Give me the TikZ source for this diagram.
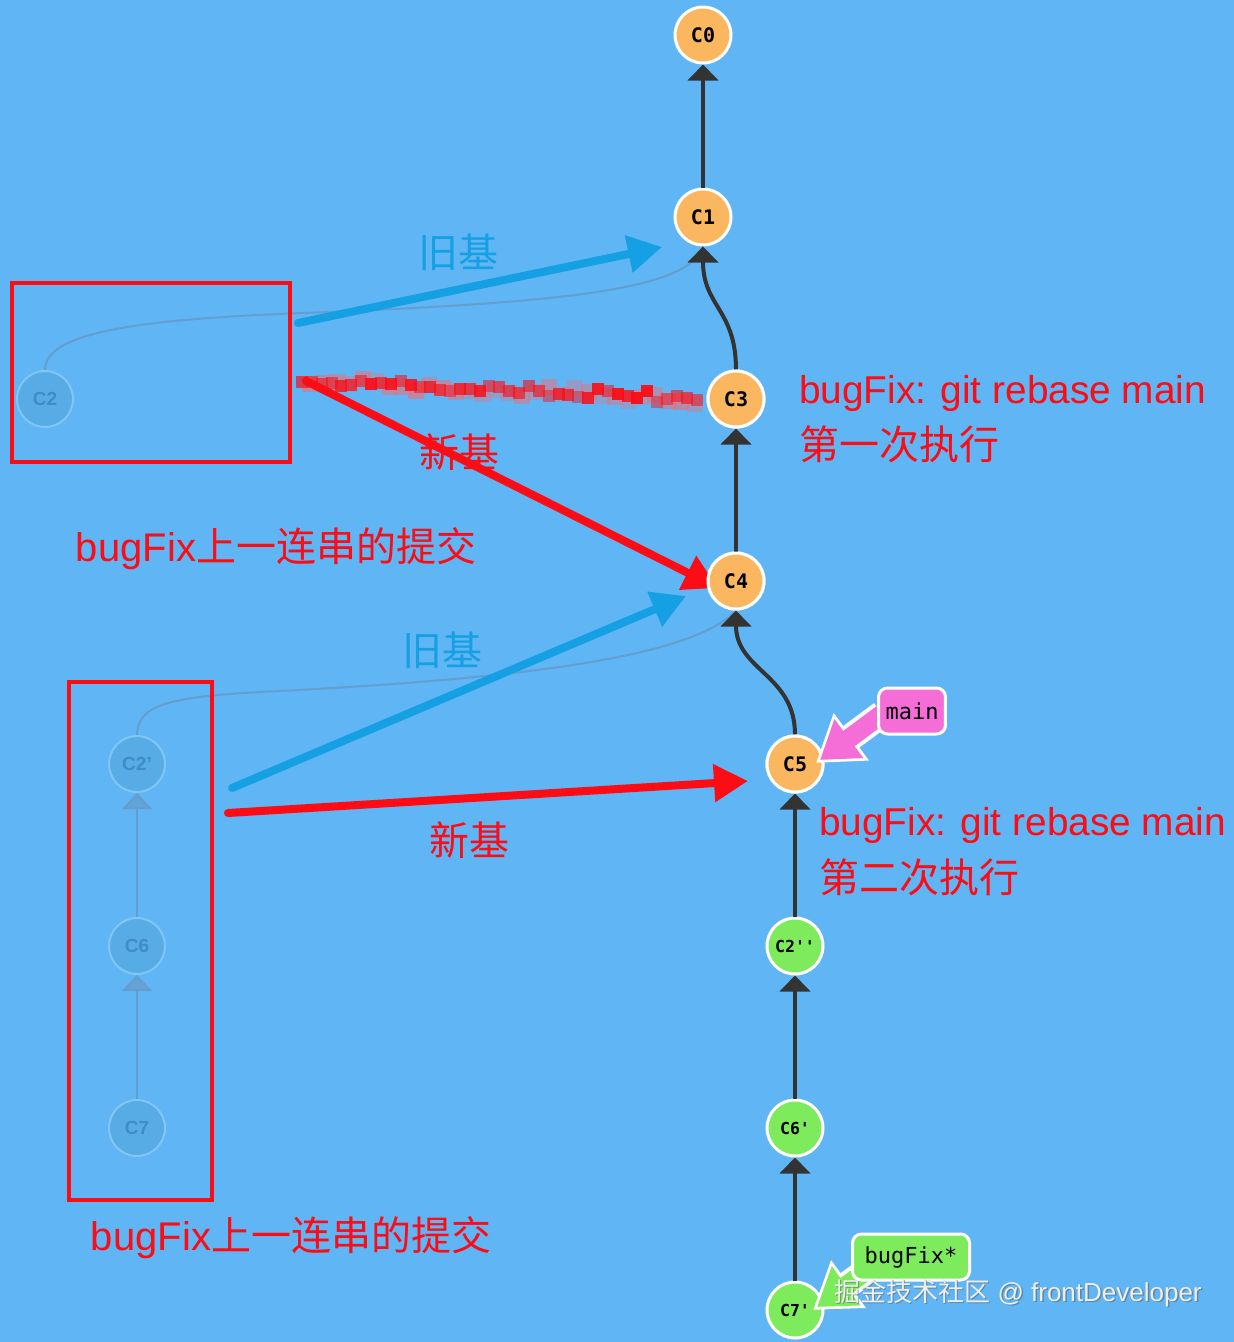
\documentclass[tikz,border=0pt]{standalone}
\usepackage{fontspec}
\setmainfont{Liberation Sans}
\newfontfamily\cjk{Noto Sans CJK SC}
\newfontfamily\monofont{DejaVu Sans Mono}
\usetikzlibrary{arrows.meta,calc}
\definecolor{bgc}{RGB}{96,181,244}
\definecolor{corange}{RGB}{250,183,96}
\definecolor{cgreen}{RGB}{125,235,92}
\definecolor{cpink}{RGB}{245,110,215}
\definecolor{cred}{RGB}{252,12,20}
\definecolor{cblue}{RGB}{22,160,228}
\definecolor{edgec}{RGB}{51,51,51}
\definecolor{ghostfill}{RGB}{88,172,230}
\definecolor{ghostdraw}{RGB}{128,198,246}
\definecolor{ghosttext}{RGB}{62,140,200}
\definecolor{ghostline}{RGB}{100,158,206}
\definecolor{wmc}{RGB}{236,238,240}
\begin{document}
\begin{tikzpicture}[x=1pt,y=-1pt,
  commit/.style={circle, minimum size=56pt, inner sep=0pt, draw=white, line width=3pt,
    font=\monofont\bfseries\fontsize{20}{20}\selectfont},
  cmtO/.style={commit, fill=corange},
  cmtG/.style={commit, fill=cgreen},
  small/.style={font=\monofont\bfseries\fontsize{16.5}{16.5}\selectfont},
  ghost/.style={circle, minimum size=56pt, inner sep=0pt, draw=ghostdraw, line width=2pt,
    fill=ghostfill, text=ghosttext, font=\bfseries\fontsize{19}{19}\selectfont},
  edge/.style={draw=edgec, line width=4pt, -{Triangle[width=30pt,length=16pt]}},
  ghostedge/.style={draw=ghostline, line width=2pt, -{Triangle[width=30pt,length=16pt,fill=ghostline!80!bgc]}},
  ghostcurve/.style={draw=ghostline, line width=2pt},
  redbox/.style={draw=cred, line width=4.5pt},
  bigarrow/.style={line width=8pt, line cap=round, -{Triangle[width=36pt,length=34pt]}},
  txt/.style={inner sep=0pt, font=\fontsize{40}{44}\selectfont},
  cmdtxt/.style={inner sep=0pt, font=\fontsize{38.8}{44}\selectfont},
  blabel/.style={rounded corners=9pt, draw=white, line width=3pt, minimum height=46pt,
    inner xsep=7pt, font=\monofont\fontsize{22}{22}\selectfont},
]
\fill[bgc] (0,0) rectangle (1234,1342);
\useasboundingbox (0,0) rectangle (1234,1342);

% ghost (old) commits
\node[ghost] (C2) at (45,399) {C2};
\node[ghost] (C2p) at (137,764) {C2'};
\node[ghost] (C6) at (137,946) {C6};
\node[ghost] (C7) at (137,1128) {C7};

% main commits
\node[cmtO] (C0) at (703,35) {C0};
\node[cmtO] (C1) at (703,217) {C1};
\node[cmtO] (C3) at (736,399) {C3};
\node[cmtO] (C4) at (736,581) {C4};
\node[cmtO] (C5) at (795,764) {C5};
\node[cmtG, small] (C2pp) at (795,946) {C2''};
\node[cmtG, small] (C6p) at (795,1128) {C6'};
\node[cmtG, small] (C7p) at (795,1310) {C7'};

% ghost connectors
\draw[ghostcurve] (C2.north) .. controls (45,330) and (150,318) .. (330,312)
  .. controls (560,302) and (690,290) .. (C1.south);
\draw[ghostcurve] (C2p.north) .. controls (137,705) and (170,697) .. (260,692)
  .. controls (500,680) and (690,660) .. (C4.south);
\draw[ghostedge] (C6) -- (C2p);
\draw[ghostedge] (C7) -- (C6);

% red boxes
\node[redbox, minimum width=278pt, minimum height=179pt, inner sep=0pt] (box1) at (151,372.5) {};
\node[redbox, minimum width=143pt, minimum height=518pt, inner sep=0pt] (box2) at (140.5,941) {};

% texts
\node[txt, text=cblue] (old1) at (458,252) {\cjk 旧基};
\node[txt, text=cred] (new1) at (459,452) {\cjk 新基};
\node[txt, text=cred] (chain1) at (276,549) {bugFix{\cjk 上一连串的提交}};
\node[txt, text=cblue] (old2) at (442,650) {\cjk 旧基};
\node[txt, text=cred] (new2) at (469,840) {\cjk 新基};
\node[txt, text=cred] (chain2) at (291,1238) {bugFix{\cjk 上一连串的提交}};
\node[cmdtxt, text=cred, anchor=west] (cmd1) at (799,393) {bugFix: git rebase main};
\node[txt, text=cred, anchor=west] (run1) at (799,444) {\cjk 第一次执行};
\node[cmdtxt, text=cred, anchor=west] (cmd2) at (819,825) {bugFix: git rebase main};
\node[txt, text=cred, anchor=west] (run2) at (819,877) {\cjk 第二次执行};

% pixelated (mosaic) red line
\coordinate (rd) at (302,380);
\pgfmathsetseed{11}
\foreach \i in {0,...,29}{
  \pgfmathsetmacro\tt{0.02+\i/30.5}
  \pgfmathsetmacro\jy{6*rand}
  \pgfmathsetmacro\op{0.25+0.35*rnd}
  \fill[red!60!white, opacity=\op] ($(rd)!\tt!(C3.west)+(0,\jy)+(-8,-8)$) rectangle ++(16,16);
}
\foreach \i in {0,...,40}{
  \pgfmathsetmacro\tt{\i/41}
  \pgfmathsetmacro\jy{5*rand}
  \pgfmathsetmacro\op{0.45+0.5*rnd}
  \fill[cred, opacity=\op] ($(rd)!\tt!(C3.west)+(0,\jy)+(-6,-6)$) rectangle ++(12,12);
}

% big arrows
\coordinate (b1s) at (298,323);
\coordinate (b1e) at (662,247);
\coordinate (b2s) at (232,788);
\coordinate (b2e) at (686,596);
\coordinate (r1s) at (306,381);
\coordinate (r1e) at (718,588);
\coordinate (r2s) at (228,813);
\coordinate (r2e) at (748,781);
\draw[bigarrow, cblue] (b1s) -- (b1e);
\draw[bigarrow, cblue] (b2s) -- (b2e);
\draw[bigarrow, cred] (r1s) -- (r1e);
\draw[bigarrow, cred] (r2s) -- (r2e);

% main edges
\draw[edge] (C1) -- (C0);
\draw[edge] (C3.north) .. controls +(0,-60) and +(0,60) .. (C1.south);
\draw[edge] (C4) -- (C3);
\draw[edge] (C5.north) .. controls +(0,-60) and +(0,60) .. (C4.south);
\draw[edge] (C2pp) -- (C5);
\draw[edge] (C6p) -- (C2pp);
\draw[edge] (C7p) -- (C6p);

% commits drawn again above the big arrows
\node[cmtO] at (C3) {C3};
\node[cmtO] at (C4) {C4};
\node[cmtO] at (C5) {C5};

% branch labels
\coordinate (mtail) at (882,714);
\coordinate (mtip) at (820,760);
\draw[white, line width=27pt, -{Triangle[width=56pt,length=44pt]}] (mtail) -- ($(mtip)!-5pt!(mtail)$);
\draw[cpink, line width=19pt, -{Triangle[width=46pt,length=36pt]}] (mtail) -- (mtip);
\node[blabel, fill=cpink] (main) at (912,711) {main};

\coordinate (gtail) at (876,1264);
\coordinate (gtip) at (817,1307);
\draw[white, line width=27pt, -{Triangle[width=56pt,length=44pt]}] (gtail) -- ($(gtip)!-5pt!(gtail)$);
\draw[cgreen, line width=19pt, -{Triangle[width=46pt,length=36pt]}] (gtail) -- (gtip);
\node[blabel, fill=cgreen, minimum width=117pt] (bugfix) at (911,1257) {bugFix*};

% watermark
\node[inner sep=0pt, text=black!60, opacity=0.6, font=\fontsize{26}{26}\selectfont] at (1019.5,1294.5) {{\cjk 掘金技术社区} @ frontDeveloper};
\node[inner sep=0pt, text=wmc, font=\fontsize{26}{26}\selectfont] (wm) at (1018,1293) {{\cjk 掘金技术社区} @ frontDeveloper};
\end{tikzpicture}
\end{document}
